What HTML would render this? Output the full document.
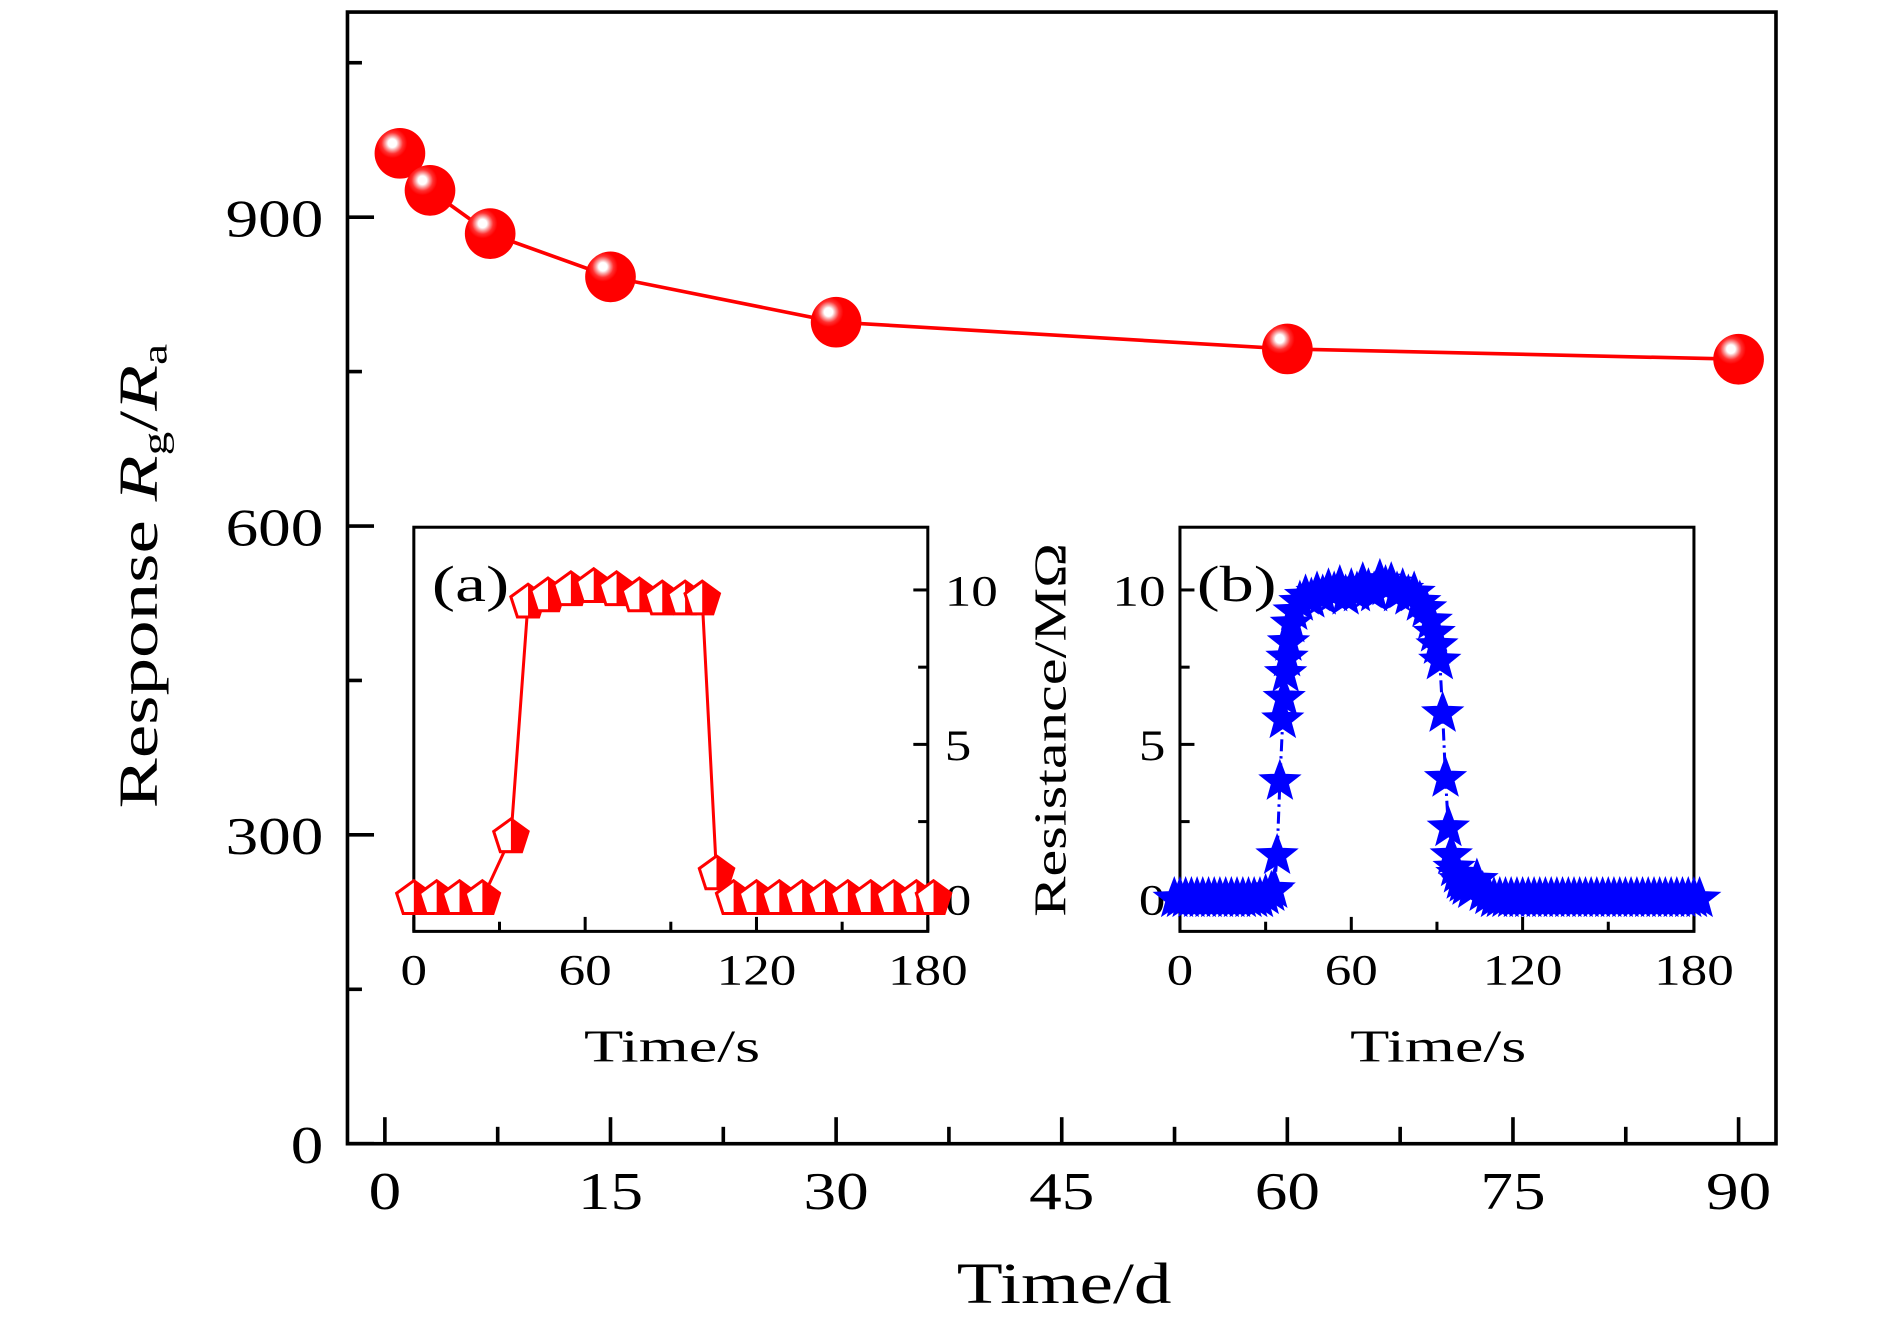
<!DOCTYPE html>
<html><head><meta charset="utf-8"><style>
html,body{margin:0;padding:0;background:#fff}
svg{display:block}
text{font-family:"Liberation Serif","DejaVu Serif",serif;fill:#000}
</style></head><body>
<svg id="chart" width="1890" height="1323" viewBox="0 0 1566.5 1096.6" preserveAspectRatio="none" xmlns="http://www.w3.org/2000/svg">
<defs>
<radialGradient id="sph" cx="0.35" cy="0.3" r="0.7">
<stop offset="0" stop-color="#fff"/><stop offset="0.12" stop-color="#fff"/>
<stop offset="0.2" stop-color="#f9a0a0"/><stop offset="0.3" stop-color="#ff3030"/>
<stop offset="0.42" stop-color="#ff0000"/><stop offset="1" stop-color="#f00"/>
</radialGradient>
</defs>
<g id="main"></g>
<g id="insa"></g>
<g id="insb"></g>
</svg>
<script>
// Main chart data
const mainDays = [1, 3, 7, 15, 30, 60, 90];
const mainResponse = [962, 926, 884, 842, 798, 772, 762];
const mainXTicks = [0, 15, 30, 45, 60, 75, 90];
const mainYTicks = [0, 300, 600, 900];
// Inset (a)
const aTime = [0,8,16,24,34,40,47,55,63,71,79,87,95,101,106,112,120,128,136,144,152,160,168,176,182];
const aRes  = [0,0,0,0,2.0,9.6,9.8,10.0,10.1,10.0,9.8,9.7,9.7,9.7,0.8,0,0,0,0,0,0,0,0,0,0];
// Inset (b)
const bTime = [-2,0,2,4,6,8,10,12,14,16,18,20,22,24,26,28,30,32,33,34,35,36,36.5,37,37.5,38,39,40,42,44,46,48,50,52,54,56,58,60,62,64,66,68,70,72,74,76,78,80,82,84,86,88,89,90,91,92,93,94,95,96,97,98,99,100,102,104,106,108,110,112,114,116,118,120,122,124,126,128,130,132,134,136,138,140,142,144,146,148,150,152,154,156,158,160,162,164,166,168,170,172,174,176,178,180,182];
const bRes  = [0,0,0,0,0,0,0,0,0,0,0,0,0,0,0,0,0.1,0.2,0.3,1.4,3.8,5.8,6.5,7.3,7.8,8.3,8.9,9.3,9.6,9.8,9.7,9.9,9.8,10.0,9.9,10.1,9.8,10.0,9.9,10.2,10.0,9.9,10.3,10.1,10.2,9.9,10.0,9.8,9.9,9.6,9.4,9.0,8.6,8.2,7.7,6.0,3.9,2.3,1.4,1.0,0.8,0.6,0.5,0.4,0.3,0.6,0.2,0.1,0,0,0,0,0,0,0,0,0,0,0,0,0,0,0,0,0,0,0,0,0,0,0,0,0,0,0,0,0,0,0,0,0,0,0,0,0,0,0];
const insetXTicks = [0, 60, 120, 180];
const insetYTicks = [0, 5, 10];

const NS = 'http://www.w3.org/2000/svg';
function mk(parent, tag, attrs, txt){const e=document.createElementNS(NS,tag);for(const k in attrs)e.setAttribute(k,attrs[k]);if(txt!==undefined)e.textContent=txt;parent.appendChild(e);return e;}
function fit(e,len){e.setAttribute('textLength',len);e.setAttribute('lengthAdjust','spacingAndGlyphs');}

// ---------- main ----------
const M = document.getElementById('main');
const mx = d => 319 + (d/90)*(1441-319);
const my = v => 948 - (v/900)*(948-180);
let e;
e = mk(M,'rect',{x:288,y:10,width:1184,height:938,fill:'none',stroke:'#000','stroke-width':3});


for(let d=0; d<=90; d+=7.5){
  const maj = (d%15===0);
  e = mk(M,'line',{x1:mx(d),x2:mx(d),y1:948,y2:948-(maj?22:14),stroke:'#000','stroke-width':3});
  
  
}
mainXTicks.forEach(t=>{
  const s=String(t);
  e = mk(M,'text',{x:mx(t),y:1002,'font-size':44,'text-anchor':'middle'},s);
  fit(e,27*s.length);
  
  
});
for(let v=0; v<=1050; v+=150){
  const maj = (v%300===0);
  e = mk(M,'line',{x1:288,x2:288+(maj?22:12),y1:my(v),y2:my(v),stroke:'#000','stroke-width':3});
  
  
}
mainYTicks.forEach(t=>{
  const s=String(t);
  e = mk(M,'text',{x:268-27*s.length,y:my(t)+16,'font-size':44,'text-anchor':'start'},s);
  fit(e,27*s.length);
  
  
});
e = mk(M,'text',{x:793,y:1080,'font-size':48,'text-anchor':'start'},'Time/d');
fit(e,178);


e = mk(M,'text',{x:0,y:0,'font-size':46,'text-anchor':'start',transform:'translate(130,670) rotate(-90)'});


e.innerHTML='Response <tspan font-style="italic">R</tspan><tspan font-size="29" dy="8">g</tspan><tspan dy="-8">/</tspan><tspan font-style="italic">R</tspan><tspan font-size="29" dy="8">a</tspan>';
fit(e,385);
let pts = mainDays.map((d,i)=>mx(d)+','+my(mainResponse[i])).join(' ');
e = mk(M,'polyline',{points:pts,fill:'none',stroke:'#f00','stroke-width':3});


mainDays.forEach((d,i)=>{
  e = mk(M,'circle',{cx:mx(d),cy:my(mainResponse[i]),r:21,fill:'url(#sph)'});
  
  
});

// ---------- inset helper ----------
function inset(G, x0, yAxisRight){
  const X = t => x0 + (t/180)*426;
  const Y = v => 745 - (v/10)*256;
  let e = mk(G,'rect',{x:x0,y:437,width:426,height:335,fill:'none',stroke:'#000','stroke-width':2.5});
  
  
  for(let t=0;t<=180;t+=30){
    const maj=(t%60===0);
    e = mk(G,'line',{x1:X(t),x2:X(t),y1:772,y2:772-(maj?12:8),stroke:'#000','stroke-width':2.5});
    
    
  }
  insetXTicks.forEach(t=>{
    const s=String(t);
    e = mk(G,'text',{x:X(t)-11*s.length,y:816,'font-size':36,'text-anchor':'start'},s);
    fit(e,22*s.length);
    
    
  });
  const ax = yAxisRight ? x0+426 : x0;
  const dir = yAxisRight ? -1 : 1;
  for(let v=0; v<=10; v+=2.5){
    const maj=(v%5===0);
    e = mk(G,'line',{x1:ax,x2:ax+dir*(maj?12:8),y1:Y(v),y2:Y(v),stroke:'#000','stroke-width':2.5});
    
    
  }
  insetYTicks.forEach(v=>{
    const s=String(v);
    e = mk(G,'text',{x: yAxisRight? ax+14 : ax-12-22*s.length, y:Y(v)+13,'font-size':36,'text-anchor':'start'},s);
    fit(e,22*s.length);
    
    
  });
  e = mk(G,'text',{x:x0+141,y:880,'font-size':38,'text-anchor':'start'},'Time/s');
  fit(e,146);
  
  
  return {X,Y};
}

// ---------- inset a ----------
const A = document.getElementById('insa');
const sa = inset(A, 343, true);
e = mk(A,'text',{x:358,y:498,'font-size':42},'(a)');
fit(e,64);


e = mk(A,'polyline',{points:aTime.map((t,i)=>sa.X(t)+','+sa.Y(aRes[i])).join(' '),fill:'none',stroke:'#f00','stroke-width':2.5});


function pent(cx,cy,r){const p=[];for(let k=0;k<5;k++){const a=-Math.PI/2+k*2*Math.PI/5;p.push([cx+r*Math.cos(a),cy+r*Math.sin(a)]);}return p;}
aTime.forEach((t,i)=>{
  const cx=sa.X(t), cy=sa.Y(aRes[i]), p=pent(cx,cy,15);
  const g = mk(A,'g',{});
  
  
  mk(g,'polygon',{points:p.map(q=>q.join(',')).join(' '),fill:'#fff',stroke:'#f00','stroke-width':2.5});
  const half=[[cx,p[0][1]],p[1],p[2],[cx,p[2][1]]];
  mk(g,'polygon',{points:half.map(q=>q.join(',')).join(' '),fill:'#f00'});
});

// ---------- inset b ----------
const B = document.getElementById('insb');
const sb = inset(B, 978, false);
e = mk(B,'text',{x:0,y:0,'font-size':38,'text-anchor':'start',transform:'translate(883,760) rotate(-90)'},'Resistance/MΩ');
fit(e,310);


e = mk(B,'polyline',{points:bTime.map((t,i)=>sb.X(t)+','+sb.Y(bRes[i])).join(' '),fill:'none',stroke:'#00f','stroke-width':2.5,'stroke-dasharray':'10 4 2 4'});


function star(cx,cy,R){const r=R*0.42,p=[];for(let k=0;k<10;k++){const a=-Math.PI/2+k*Math.PI/5,rr=k%2?r:R;p.push((cx+rr*Math.cos(a)).toFixed(1)+','+(cy+rr*Math.sin(a)).toFixed(1));}return p.join(' ');}
bTime.forEach((t,i)=>{
  e = mk(B,'polygon',{points:star(sb.X(t),sb.Y(bRes[i]),16),fill:'#00f',stroke:'#00f','stroke-width':2});
  
  
});
e = mk(B,'text',{x:992,y:498,'font-size':42},'(b)');
fit(e,66);


</script>
</body></html>
